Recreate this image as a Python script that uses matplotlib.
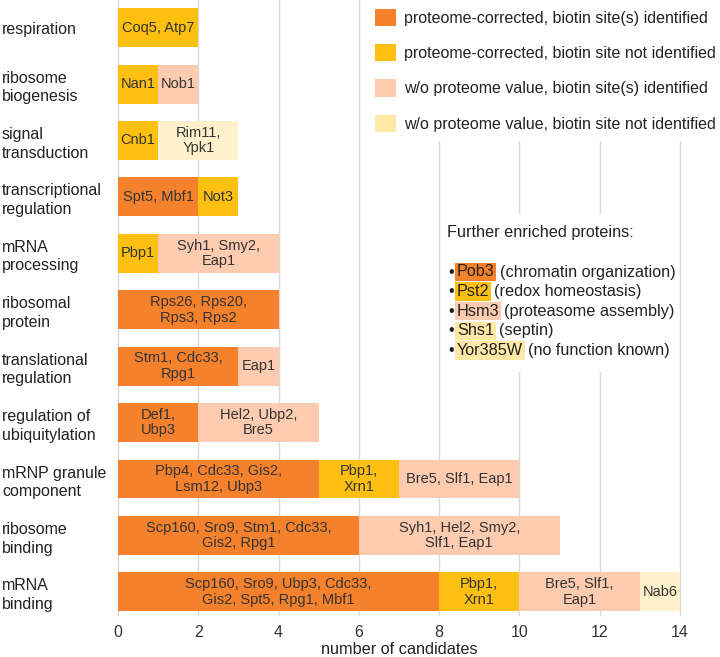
import numpy as np
import matplotlib
matplotlib.use("Agg")
import matplotlib.pyplot as plt
from matplotlib.patches import Patch, Rectangle

plt.rcParams['font.family'] = ['Liberation Sans', 'DejaVu Sans']

categories = ["respiration", "ribosome\nbiogenesis", "signal\ntransduction",
              "transcriptional\nregulation", "mRNA\nprocessing", "ribosomal\nprotein",
              "translational\nregulation", "regulation of\nubiquitylation",
              "mRNP granule\ncomponent", "ribosome\nbinding", "mRNA\nbinding"]

series_names = ["proteome-corrected, biotin site(s) identified",
                "proteome-corrected, biotin site not identified",
                "w/o proteome value, biotin site(s) identified",
                "w/o proteome value, biotin site not identified"]

corrected_site = [0, 0, 0, 2, 0, 4, 3, 2, 5, 6, 8]
corrected_nosite = [2, 1, 1, 1, 1, 0, 0, 0, 2, 0, 2]
noproteome_site = [0, 1, 0, 0, 3, 0, 1, 3, 3, 5, 3]
noproteome_nosite = [0, 0, 2, 0, 0, 0, 0, 0, 0, 0, 1]

corrected_site_labels = ["", "", "", "Spt5, Mbf1", "", "Rps26, Rps20,\nRps3, Rps2",
                         "Stm1, Cdc33,\nRpg1", "Def1,\nUbp3", "Pbp4, Cdc33, Gis2,\nLsm12, Ubp3",
                         "Scp160, Sro9, Stm1, Cdc33,\nGis2, Rpg1",
                         "Scp160, Sro9, Ubp3, Cdc33,\nGis2, Spt5, Rpg1, Mbf1"]
corrected_nosite_labels = ["Coq5, Atp7", "Nan1", "Cnb1", "Not3", "Pbp1", "", "", "",
                           "Pbp1,\nXrn1", "", "Pbp1,\nXrn1"]
noproteome_site_labels = ["", "Nob1", "", "", "Syh1, Smy2,\nEap1", "", "Eap1",
                          "Hel2, Ubp2,\nBre5", "Bre5, Slf1, Eap1",
                          "Syh1, Hel2, Smy2,\nSlf1, Eap1", "Bre5, Slf1,\nEap1"]
noproteome_nosite_labels = ["", "", "Rim11,\nYpk1", "", "", "", "", "", "", "", "Nab6"]

further_names = ["Pob3", "Pst2", "Hsm3", "Shs1", "Yor385W"]
further_desc = ["(chromatin organization)", "(redox homeostasis)",
                "(proteasome assembly)", "(septin)", "(no function known)"]
further_series = [0, 1, 2, 3, 3]

bar_colors = ["#F5812D", "#FDC010", "#FCCBB0", "#FEF1CB"]
key_colors = ["#F5812D", "#FDC010", "#FCCBB0", "#FFE8A6"]
text_dark = "#222222"

W, H = 720, 657
fig = plt.figure(figsize=(W / 100, H / 100), dpi=100)
ax = fig.add_axes([118 / W, 1 - 615 / H, (680 - 118) / W, 615 / H])

y = np.arange(len(categories))
values = [corrected_site, corrected_nosite, noproteome_site, noproteome_nosite]
labels = [corrected_site_labels, corrected_nosite_labels,
          noproteome_site_labels, noproteome_nosite_labels]
left = np.zeros(len(categories))
for vals, labs, col in zip(values, labels, bar_colors):
    vals = np.array(vals, dtype=float)
    ax.barh(y, vals, left=left, height=0.69, color=col, zorder=2)
    for i in range(len(categories)):
        if vals[i] > 0 and labs[i]:
            ax.text(left[i] + vals[i] / 2, y[i], labs[i], ha='center', va='center',
                    fontsize=10.5, color="#333333", linespacing=1.15, zorder=3)
    left += vals

ax.set_xlim(0, 14)
ax.set_ylim(10.41, -0.49)
ax.set_xticks(np.arange(0, 15, 2))
ax.set_yticks(y)
ax.set_yticklabels(categories)
for lab in ax.get_yticklabels():
    lab.set_horizontalalignment('left')
    lab.set_linespacing(1.3)
ax.tick_params(axis='y', length=0, pad=83.5, labelsize=11.5, labelcolor=text_dark)
ax.tick_params(axis='x', length=0, pad=7, labelsize=11.5, labelcolor="#333333")
for s in ax.spines.values():
    s.set_visible(False)
for xv in ax.get_xticks():
    ax.axvline(xv, color="#D9D9D9", lw=1, zorder=0, clip_on=False)
ax.set_xlabel("number of candidates", fontsize=11.7, color=text_dark, labelpad=2)

handles = [Patch(facecolor=c, edgecolor='none') for c in key_colors]
leg = ax.legend(handles, series_names, loc='upper left',
                bbox_to_anchor=(366 / W, 1.0), bbox_transform=fig.transFigure,
                frameon=True, fancybox=False, framealpha=1, edgecolor='none',
                facecolor='white', fontsize=11.5, handlelength=1.3, handleheight=1.3,
                handletextpad=0.55, labelspacing=1.12, borderpad=0.55, borderaxespad=0)
leg.set_zorder(5)
for t in leg.get_texts():
    t.set_color(text_dark)

# further enriched proteins box
box = Rectangle((444 / W, 1 - 372 / H), (679 - 444) / W, (372 - 214) / H,
                transform=fig.transFigure, facecolor='white', edgecolor='none', zorder=4)
fig.patches.append(box)
fig.text(447 / W, 1 - 232 / H, "Further enriched proteins:", fontsize=11.7,
         color=text_dark, va='center', zorder=6)
for k, (nm, desc, si) in enumerate(zip(further_names, further_desc, further_series)):
    yy = 1 - (272 + k * 19.6) / H
    fig.text(448 / W, yy, "\u2022", fontsize=11.7, color=text_dark, va='center', zorder=6)
    t = fig.text(457 / W, yy, nm, fontsize=11.7, color=text_dark, va='center', zorder=6,
                 bbox=dict(facecolor=key_colors[si], edgecolor='none', pad=1.2))
    fig.add_artist(plt.Annotation(desc, xy=(1, 0), xycoords=t,
                                  xytext=(3.5, 0), textcoords='offset points',
                                  va='bottom', ha='left', fontsize=11.7, color=text_dark,
                                  zorder=6))

fig.savefig("out.png", dpi=100)
